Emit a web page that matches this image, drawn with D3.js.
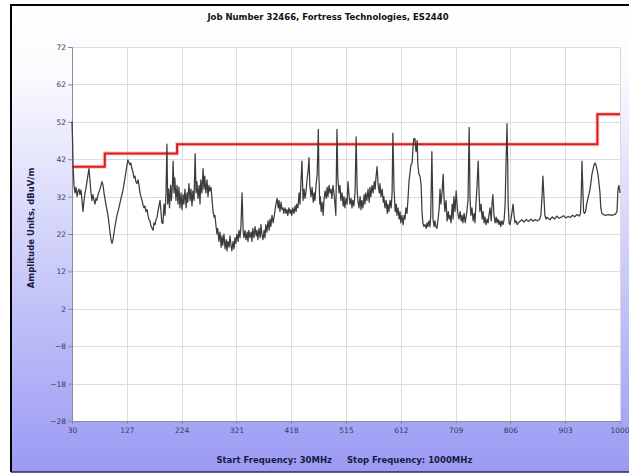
<!DOCTYPE html>
<html>
<head>
<meta charset="utf-8">
<script src="https://cdn.jsdelivr.net/npm/d3@7"></script>
<style>
  html, body { margin: 0; padding: 0; background: #ffffff; }
  svg { display: block; }
</style>
</head>
<body>
<svg id="chart" width="629" height="475"></svg>
<script>
// Scan axes
const xTicks = [30, 127, 224, 321, 418, 515, 612, 709, 806, 903, 1000];
const yTicks = [72, 62, 52, 42, 32, 22, 12, 2, -8, -18, -28];

// Limit line, dBuV/m by frequency (MHz)
const limitLine = [
  [30, 40], [88, 40], [88, 43.5], [216, 43.5],
  [216, 46], [960, 46], [960, 54], [1000, 54]
];

// Measured emissions trace [MHz, dBuV/m]
const trace = [
  [30,52],[31,47],[32,40],[33.5,35],[35.3,33],[37,34.5],[39,32],[40.6,33.5],[42.4,34],[44,32.5],
  [46,33.8],[47.7,31],[49.5,28],[51,30.5],[53,33],[55,34.5],[56.5,36],[58,37.5],[60,39.5],[62,36],
  [63.6,33],[65.4,31],[67,32.5],[69,31],[70.7,30],[72.5,31.5],[74,31],[76,32.5],[79.6,34],[83,36],
  [85,35],[86.6,33],[90,30],[93.7,27],[97.3,22.5],[99,20.5],[100.8,19.5],[102.6,20.5],[106,24],[109.6,27],
  [113,29],[116.7,31.5],[120,33.5],[123.8,37],[127.4,40.5],[129,41.8],[131,41],[132.7,40.5],[134,41],[136,39.5],
  [138,38.5],[139.7,37],[141.5,37.5],[143,36],[145,35.5],[147,36.5],[148.6,35],[150.4,33],[152,32],[154,31],
  [156,29.5],[157.4,29],[159,29.5],[161,28],[163,28.5],[164.5,27],[166,26],[168,25.5],[170,24],[172,23.5],
  [173.6,23],[175,25],[177,24.5],[179,26],[180.7,26.5],[182,28],[184,29.5],[185.8,31],[187.5,28],[189,25],
  [191,24.8],[192.8,30],[194.6,27],[196.4,33],[198,46],[199.4,30],[201,34],[202.6,29],[204.5,35],[206,31],
  [208,36],[209,41.5],[210.5,33],[212,37],[214,31],[216,35],[217.6,30],[219.4,34.5],[221,29],[223,33],
  [224.7,28.5],[226.5,32.5],[228,30],[230,34],[232,29],[233.6,33],[235,30.5],[237,35.5],[239,31],[240.6,34],
  [242.4,29.5],[244,33.5],[246,31],[248,43.5],[249.5,33],[251,36],[253,31.5],[255,35],[256.6,30],[258,36.5],
  [260,33],[262,39.5],[263.6,34],[265,37.5],[267,33],[269,36.5],[270.7,32],[272.5,35],[274,33.5],[276,34.5],
  [278,31],[279.7,28],[281.5,26.5],[283,27],[285,24],[286.7,22],[288,23.5],[290,20],[292,22.5],[294,18.5],
  [295.6,21.5],[297,19],[299,22],[301,18],[303,20.5],[304.4,17.5],[306,20],[308,18.5],[309.7,21.5],[311.4,19],
  [313,17.5],[315,20],[316.7,18],[318.5,21],[320,19.5],[322,22],[324,20],[325.6,23],[327.4,21],[329,24],
  [331,33],[333,22.5],[334.4,21],[336,23],[338,20.5],[340,22.5],[341.5,20],[343,23],[345,21],[347,22.5],
  [348.6,20],[350,23.5],[352,21],[354,24],[356,21.5],[357.5,23],[359,20.5],[361,23.5],[363,21],[364.5,24.5],
  [366,22],[368,20.5],[370,23],[371.6,21],[373,24.5],[375,22.5],[377,25.5],[379,23],[380.5,26],[382,24],
  [384,27],[386,25],[387.6,26.5],[389,28],[391,30],[393,31.5],[395,29],[396.4,31],[398,28],[400,30.5],
  [401.7,28.5],[403.5,29],[405,27.5],[407,29],[409,27.5],[410.5,28.5],[412,27],[414,29],[416,27.5],[417.6,28.5],
  [419,27],[421,29],[423,27.5],[425,29.5],[426.7,28],[428,30],[430,29],[432,33],[433.6,30],[435,35],
  [437,41.5],[439,31],[440.8,34],[442.4,31.5],[444,33],[446,36.5],[448,39],[449.5,42.4],[451,35],[453,32],
  [455,34.5],[457,30.5],[458.6,33],[460,31],[462,35],[464,38],[466,50],[467,38],[468.6,30],[469.5,32],
  [471,28],[472.7,30.5],[474.5,27],[476,31],[478,33.5],[480,31.5],[481.6,34.5],[483,32],[485,35],[486.7,33],
  [488.4,34],[490,31.5],[492,35],[494,32.5],[495.5,30],[497,27],[499,50],[500.4,38],[501,36],[502.6,33],
  [504.4,35],[506,31],[508,33],[510,29.5],[511.4,32],[513,29],[515,31.5],[517,30],[518.5,36],[520,33],
  [522,30],[524,31.5],[525.6,29],[527,31],[529,29.5],[531,33],[533,48],[534.7,34],[536,31],[538,29],
  [540,32],[541.5,28.5],[543,31],[545,29],[547,32.5],[548.6,30],[550,33],[552,31],[554,34],[556,30.5],
  [557.5,34.5],[559,32],[561,35],[563,33],[565,36],[566.6,34],[568,37],[570,40],[572,35],[574,33],
  [575,35.5],[577,32],[579,34],[581,30.5],[582,32],[584,29],[586,31],[588,27.5],[589,30],[591,28],
  [593,31],[595,29],[596.6,33],[598,49],[600,34],[602,28],[604,30],[605,27],[607,29],[609,26],
  [610.6,28],[612,25],[614,27],[616,24.5],[618,27],[619.5,26],[621,29],[623,27.5],[625,32],[626.5,36],
  [628,38],[630,40.5],[632,41],[633.6,45],[635,47.5],[637,47.5],[639,44],[641,47],[642,41],[644,38],
  [646,37.5],[648,35],[649.5,28],[651,25],[653,24],[655,24.5],[657,23.5],[658.6,25],[660,24],[662,25.5],
  [663.7,24],[665,27],[667,44],[669,26],[670.8,24],[672.5,25.5],[674,24],[676,23.5],[678,26],[680,29],
  [681.4,34],[683,30],[685,33],[687,38],[688.7,31],[690,28],[692,31],[694,25.5],[696,28],[697.5,26],
  [699,27],[701,25],[703,30],[704.5,26],[706,32],[708,28],[710,33.5],[712,29],[713.5,27],[715,26],
  [717,28],[719,25.5],[720.4,27],[722,25],[724,27.5],[726,25],[727.4,26.5],[729,28],[731,31],[733,50.5],
  [734.5,32],[736,27],[738,29],[740,25.5],[742,27.5],[743.3,25],[745,30],[747,35],[749,41.5],[750.5,33],
  [752,28],[754,30],[756,26],[757.7,28],[759.4,25],[761,26.5],[763,24.5],[765,26],[766.6,25],[768,27],
  [770,29],[772,25.5],[773.5,30],[775,32.5],[777,27],[779,25],[780.8,26.5],[782.5,25],[784,26],[786,24.5],
  [787.6,25.5],[789,24],[791,25.5],[793,24.5],[795,26],[796.7,30],[798,39],[800,51.5],[801.3,40],[802,30],
  [803.6,25],[805.3,24.5],[807,26],[809,28],[810.7,30],[812.5,27],[814,25],[816,25.5],[818,24.5],[820,25],
  [826,25.8],[830,25.2],[834,25.9],[838,25.3],[842,26],[846,25.4],[850,25.9],[854,25.5],[858,26],[860,27],
  [862,32],[863.5,37.5],[865,33],[867,27],[869,26],[870.5,26.5],[876,25.8],[880,26.6],[884,26],[888,26.8],
  [892,26.2],[896,26.5],[900,26.9],[904,26.3],[908,26.7],[912,26.4],[916,27],[920,26.6],[924,27.2],[928,26.8],
  [930,27.5],[931.5,33],[932.7,41.5],[934,35],[935.5,28],[937,27.5],[939,28],[941,30],[947,34],[950.4,38],
  [954,40.5],[955.7,41],[957.5,40.5],[961,38],[964.6,33],[966,29],[968,27.5],[973,27],[980,27.2],[986,27],
  [992,27.3],[994.7,28],[996.5,34],[998,35],[1000,33]
];

const titleText = "Job Number 32466, Fortress Technologies, ES2440";
const yTitleText = "Amplitude Units, dBuV/m";
const startText = "Start Frequency: 30MHz";
const stopText = "Stop Frequency: 1000MHz";

const svg = d3.select("#chart");
const W = 629, H = 475;
const plot = { left: 72, right: 620, top: 47, bottom: 421 };

// Panel background: white fading to periwinkle
const defs = svg.append("defs");
const grad = defs.append("linearGradient")
  .attr("id", "panelFill").attr("x1", 0).attr("y1", 0).attr("x2", 0).attr("y2", 1);
grad.append("stop").attr("offset", "0%").attr("stop-color", "#ffffff");
grad.append("stop").attr("offset", "14%").attr("stop-color", "#fbfbff");
grad.append("stop").attr("offset", "100%").attr("stop-color", "#9a9af4");

svg.append("rect")
  .attr("x", 11).attr("y", 5).attr("width", W).attr("height", 467)
  .attr("fill", "url(#panelFill)");
svg.append("line").attr("x1", 10).attr("x2", W).attr("y1", 5).attr("y2", 5)
  .attr("stroke", "#000").attr("stroke-width", 2);
svg.append("line").attr("x1", 11).attr("x2", 11).attr("y1", 4).attr("y2", 472)
  .attr("stroke", "#000").attr("stroke-width", 2);
svg.append("line").attr("x1", 11).attr("x2", W).attr("y1", 472).attr("y2", 472)
  .attr("stroke", "#2a2a60").attr("stroke-width", 1.5);

const x = d3.scaleLinear().domain([30, 1000]).range([plot.left, plot.right]);
const y = d3.scaleLinear().domain([-28, 72]).range([plot.bottom, plot.top]);

// Plot area
svg.append("rect")
  .attr("x", plot.left).attr("y", plot.top)
  .attr("width", plot.right - plot.left).attr("height", plot.bottom - plot.top)
  .attr("fill", "#ffffff");

// Grid
const grid = svg.append("g").attr("stroke", "#dcdcdc").attr("stroke-width", 1);
grid.selectAll("line.v").data(xTicks).join("line").attr("class", "v")
  .attr("x1", d => Math.round(x(d)) + 0.5).attr("x2", d => Math.round(x(d)) + 0.5)
  .attr("y1", plot.top).attr("y2", plot.bottom);
grid.selectAll("line.h").data(yTicks).join("line").attr("class", "h")
  .attr("x1", plot.left).attr("x2", plot.right)
  .attr("y1", d => Math.round(y(d)) + 0.5).attr("y2", d => Math.round(y(d)) + 0.5);

// Axes
const axisColor = "#8a8a9a";
const labelColor = "#3a3a5a";
const yAxis = svg.append("g").attr("transform", `translate(${plot.left},0)`)
  .call(d3.axisLeft(y).tickValues(yTicks).tickSize(4).tickPadding(2).tickFormat(d3.format("d")));
const xAxis = svg.append("g").attr("transform", `translate(0,${plot.bottom})`)
  .call(d3.axisBottom(x).tickValues(xTicks).tickSize(3).tickPadding(4).tickFormat(d3.format("d")));
[xAxis, yAxis].forEach(g => {
  g.select(".domain").attr("stroke", axisColor);
  g.selectAll(".tick line").attr("stroke", axisColor);
  g.selectAll(".tick text").attr("fill", labelColor)
    .attr("font-family", "DejaVu Sans, sans-serif").attr("font-size", 7.5);
});
// keep the last frequency label inside the frame
xAxis.selectAll(".tick text").filter(d => d === 1000).attr("text-anchor", "end").attr("dx", 9);

// Limit line
const lineGen = d3.line().x(d => x(d[0])).y(d => y(d[1]));
svg.append("path").datum(limitLine).attr("d", lineGen)
  .attr("fill", "none").attr("stroke", "#f3a4a4").attr("stroke-width", 4).attr("opacity", 0.6);
svg.append("path").datum(limitLine).attr("d", lineGen)
  .attr("fill", "none").attr("stroke", "#e01818").attr("stroke-width", 2);

// Emissions trace
svg.append("path").datum(trace).attr("d", lineGen)
  .attr("fill", "none").attr("stroke", "#3c3c3c").attr("stroke-width", 1.25)
  .attr("stroke-linejoin", "round");

// Titles
svg.append("text").attr("x", 328).attr("y", 20).attr("text-anchor", "middle")
  .attr("font-family", "DejaVu Sans, sans-serif").attr("font-weight", "bold")
  .attr("font-size", 8.5).attr("fill", "#111111").text(titleText);

svg.append("text")
  .attr("transform", `translate(34,${(plot.top + plot.bottom) / 2 - 6}) rotate(-90)`)
  .attr("text-anchor", "middle")
  .attr("font-family", "DejaVu Sans, sans-serif").attr("font-weight", "bold")
  .attr("font-size", 8.5).attr("fill", "#1a1a40").text(yTitleText);

svg.append("text").attr("x", 332).attr("y", 463).attr("text-anchor", "end")
  .attr("font-family", "DejaVu Sans, sans-serif").attr("font-weight", "bold")
  .attr("font-size", 8.5).attr("fill", "#1a1a40").text(startText);
svg.append("text").attr("x", 347).attr("y", 463).attr("text-anchor", "start")
  .attr("font-family", "DejaVu Sans, sans-serif").attr("font-weight", "bold")
  .attr("font-size", 8.5).attr("fill", "#1a1a40").text(stopText);
</script>
</body>
</html>
